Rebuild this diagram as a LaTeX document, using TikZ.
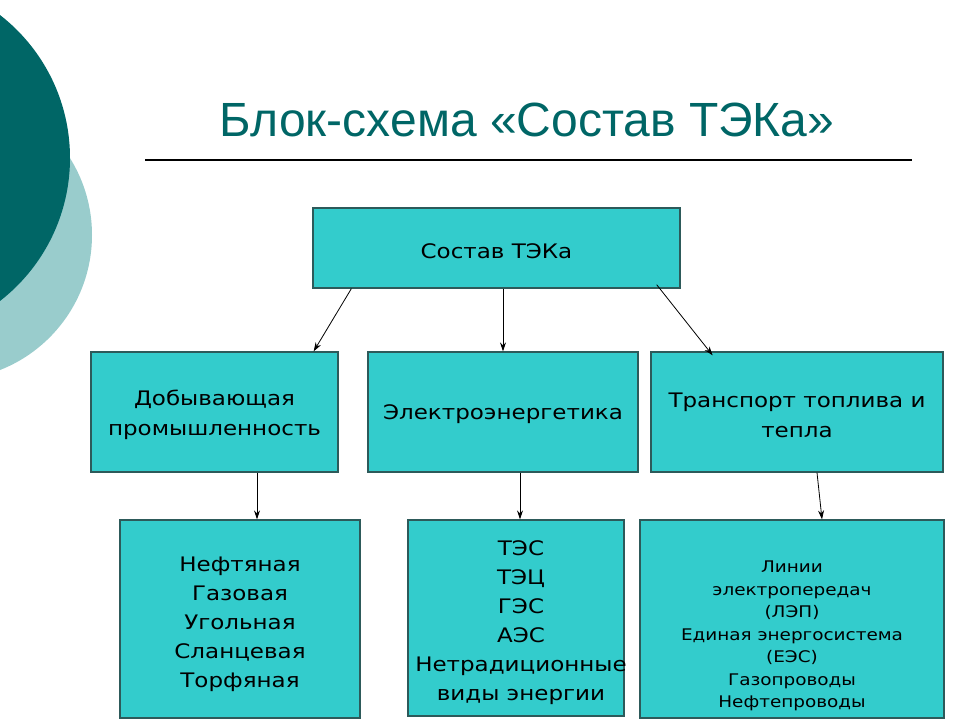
\documentclass[tikz,border=0pt]{standalone}
\usepackage{fontspec}
\setmainfont[FakeStretch=1.15]{DejaVu Sans}
\newfontfamily\titlefont{Liberation Sans}
\usetikzlibrary{arrows.meta}
\definecolor{darkteal}{HTML}{006666}
\definecolor{lightteal}{HTML}{99CCCC}
\definecolor{boxfill}{HTML}{33CCCC}
\definecolor{boxline}{HTML}{2D5A5A}
\tikzset{
  box/.style={draw=boxline, line width=1.3pt, fill=boxfill, inner sep=0pt},
  boxtext/.style={align=center, inner sep=0pt, font=\fontsize{20}{29}\selectfont},
  conn/.style={-{Stealth[length=9pt,width=6pt]}, line width=0.8pt, black}
}
\begin{document}
\begin{tikzpicture}[x=1pt,y=-1pt]
\useasboundingbox (0,0) rectangle (960,720);
\begin{scope}
\clip (0,0) rectangle (960,720);
\fill[lightteal] (-53,235) circle (145);
\fill[darkteal] (-111,158) circle (181);
\end{scope}
\node[anchor=base, text=darkteal, inner sep=0pt, font=\titlefont\fontsize{48}{56}\selectfont] (title) at (527,136) {Блок-схема «Состав ТЭКа»};
\draw[line width=1.3pt, black] (145,160) coordinate (l1) -- (912,160) coordinate (l2);

\node[box, minimum width=367pt, minimum height=80pt] (top) at (496.5,248) {};
\node[boxtext] (topt) at (496.5,251) {Состав ТЭКа};

\node[box, minimum width=247pt, minimum height=120pt] (m1) at (214.5,412) {};
\node[boxtext, font=\fontsize{20}{30}\selectfont] (m1t) at (214.5,415) {Добывающая\\промышленность};
\node[box, minimum width=270pt, minimum height=120pt] (m2) at (503,412) {};
\node[boxtext] (m2t) at (503,414) {Электроэнергетика};
\node[box, minimum width=292pt, minimum height=120pt] (m3) at (797,412) {};
\node[boxtext, font=\fontsize{20}{30}\selectfont] (m3t) at (797,415) {Транспорт топлива и\\тепла};

\node[box, minimum width=240pt, minimum height=198pt] (b1) at (240,619) {};
\node[boxtext] (b1t) at (240,624) {Нефтяная\\Газовая\\Угольная\\Сланцевая\\Торфяная};
\node[box, minimum width=216pt, minimum height=196pt] (b2) at (516,618) {};
\node[boxtext] (b2t) at (521,623) {ТЭС\\ТЭЦ\\ГЭС\\АЭС\\Нетрадиционные\\виды энергии};
\node[box, minimum width=304pt, minimum height=198pt] (b3) at (792,619) {};
\node[boxtext, font=\fontsize{16}{22.5}\selectfont] (b3t) at (792,636) {Линии\\электропередач\\(ЛЭП)\\Единая энергосистема\\(ЕЭС)\\Газопроводы\\Нефтепроводы};

\draw[conn] ([xshift=39pt]top.south west) -- ([xshift=-25pt]m1.north east);
\draw[conn] ([xshift=6.5pt]top.south) -- ([xshift=0pt]m2.north);
\draw[conn] ([xshift=-24pt,yshift=4pt]top.south east) -- ([xshift=-231pt,yshift=-4pt]m3.north east);
\draw[conn] ([xshift=42.5pt]m1.south) -- ([xshift=17pt]b1.north);
\draw[conn] ([xshift=17pt]m2.south) -- ([xshift=4pt]b2.north);
\draw[conn] ([xshift=20pt]m3.south) -- ([xshift=30pt]b3.north);
\end{tikzpicture}
\end{document}
